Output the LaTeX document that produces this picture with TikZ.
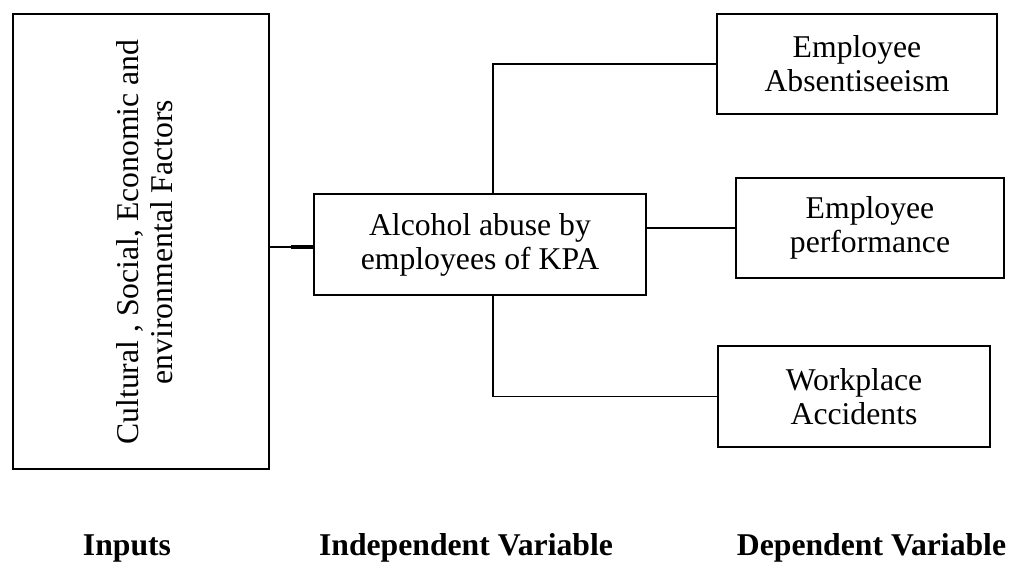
\documentclass[tikz,border=0pt]{standalone}
\usepackage{fontspec}
\setmainfont{Liberation Serif}
\begin{document}
\begin{tikzpicture}[x=1pt,y=-1pt,
  box/.style={draw, line width=1.8pt, inner sep=0pt, align=center,
    font=\fontsize{31.7}{34}\selectfont},
  txt/.style={inner sep=0pt, align=center, font=\fontsize{31.7}{34}\selectfont},
  lab/.style={inner sep=0pt, anchor=base, font=\fontsize{31.7}{34}\selectfont\bfseries},
  conn/.style={line width=1.8pt}]
\useasboundingbox (0,0) rectangle (1013,563);

\node[box, minimum width=256pt, minimum height=455pt] (inputs) at (141,241.5) {};
\node[txt, rotate=90] (inputstxt) at (145,242) {Cultural , Social, Economic and\\environmental Factors};

\node[box, minimum width=332pt, minimum height=101pt] (abuse) at (480,244.5) {Alcohol abuse by\\employees of KPA};
\node[box, minimum width=280pt, minimum height=100pt] (absent) at (857,64) {Employee\\Absentiseeism};
\node[box, minimum width=268pt, minimum height=100pt] (perf) at (870,228) {Employee\\performance};
\node[box, minimum width=272pt, minimum height=101pt] (accid) at (854,396.5) {Workplace\\Accidents};

\node[lab] (l1) at (127,555) {Inputs};
\node[lab] (l2) at (466,555) {Independent Variable};
\node[lab] (l3) at (871.5,555) {Dependent Variable};

\coordinate (j) at (291,247);
\coordinate (b) at (493,0);
\draw[conn] (inputs.east |- j) -- (j);
\draw[line width=3.4pt] (j) -- (abuse.west |- j);
\draw[conn] (abuse.north -| b) |- (absent.west);
\draw[conn] (abuse.south -| b) |- (accid.west);
\draw[conn] (abuse.east |- perf.west) -- (perf.west);
\end{tikzpicture}
\end{document}
